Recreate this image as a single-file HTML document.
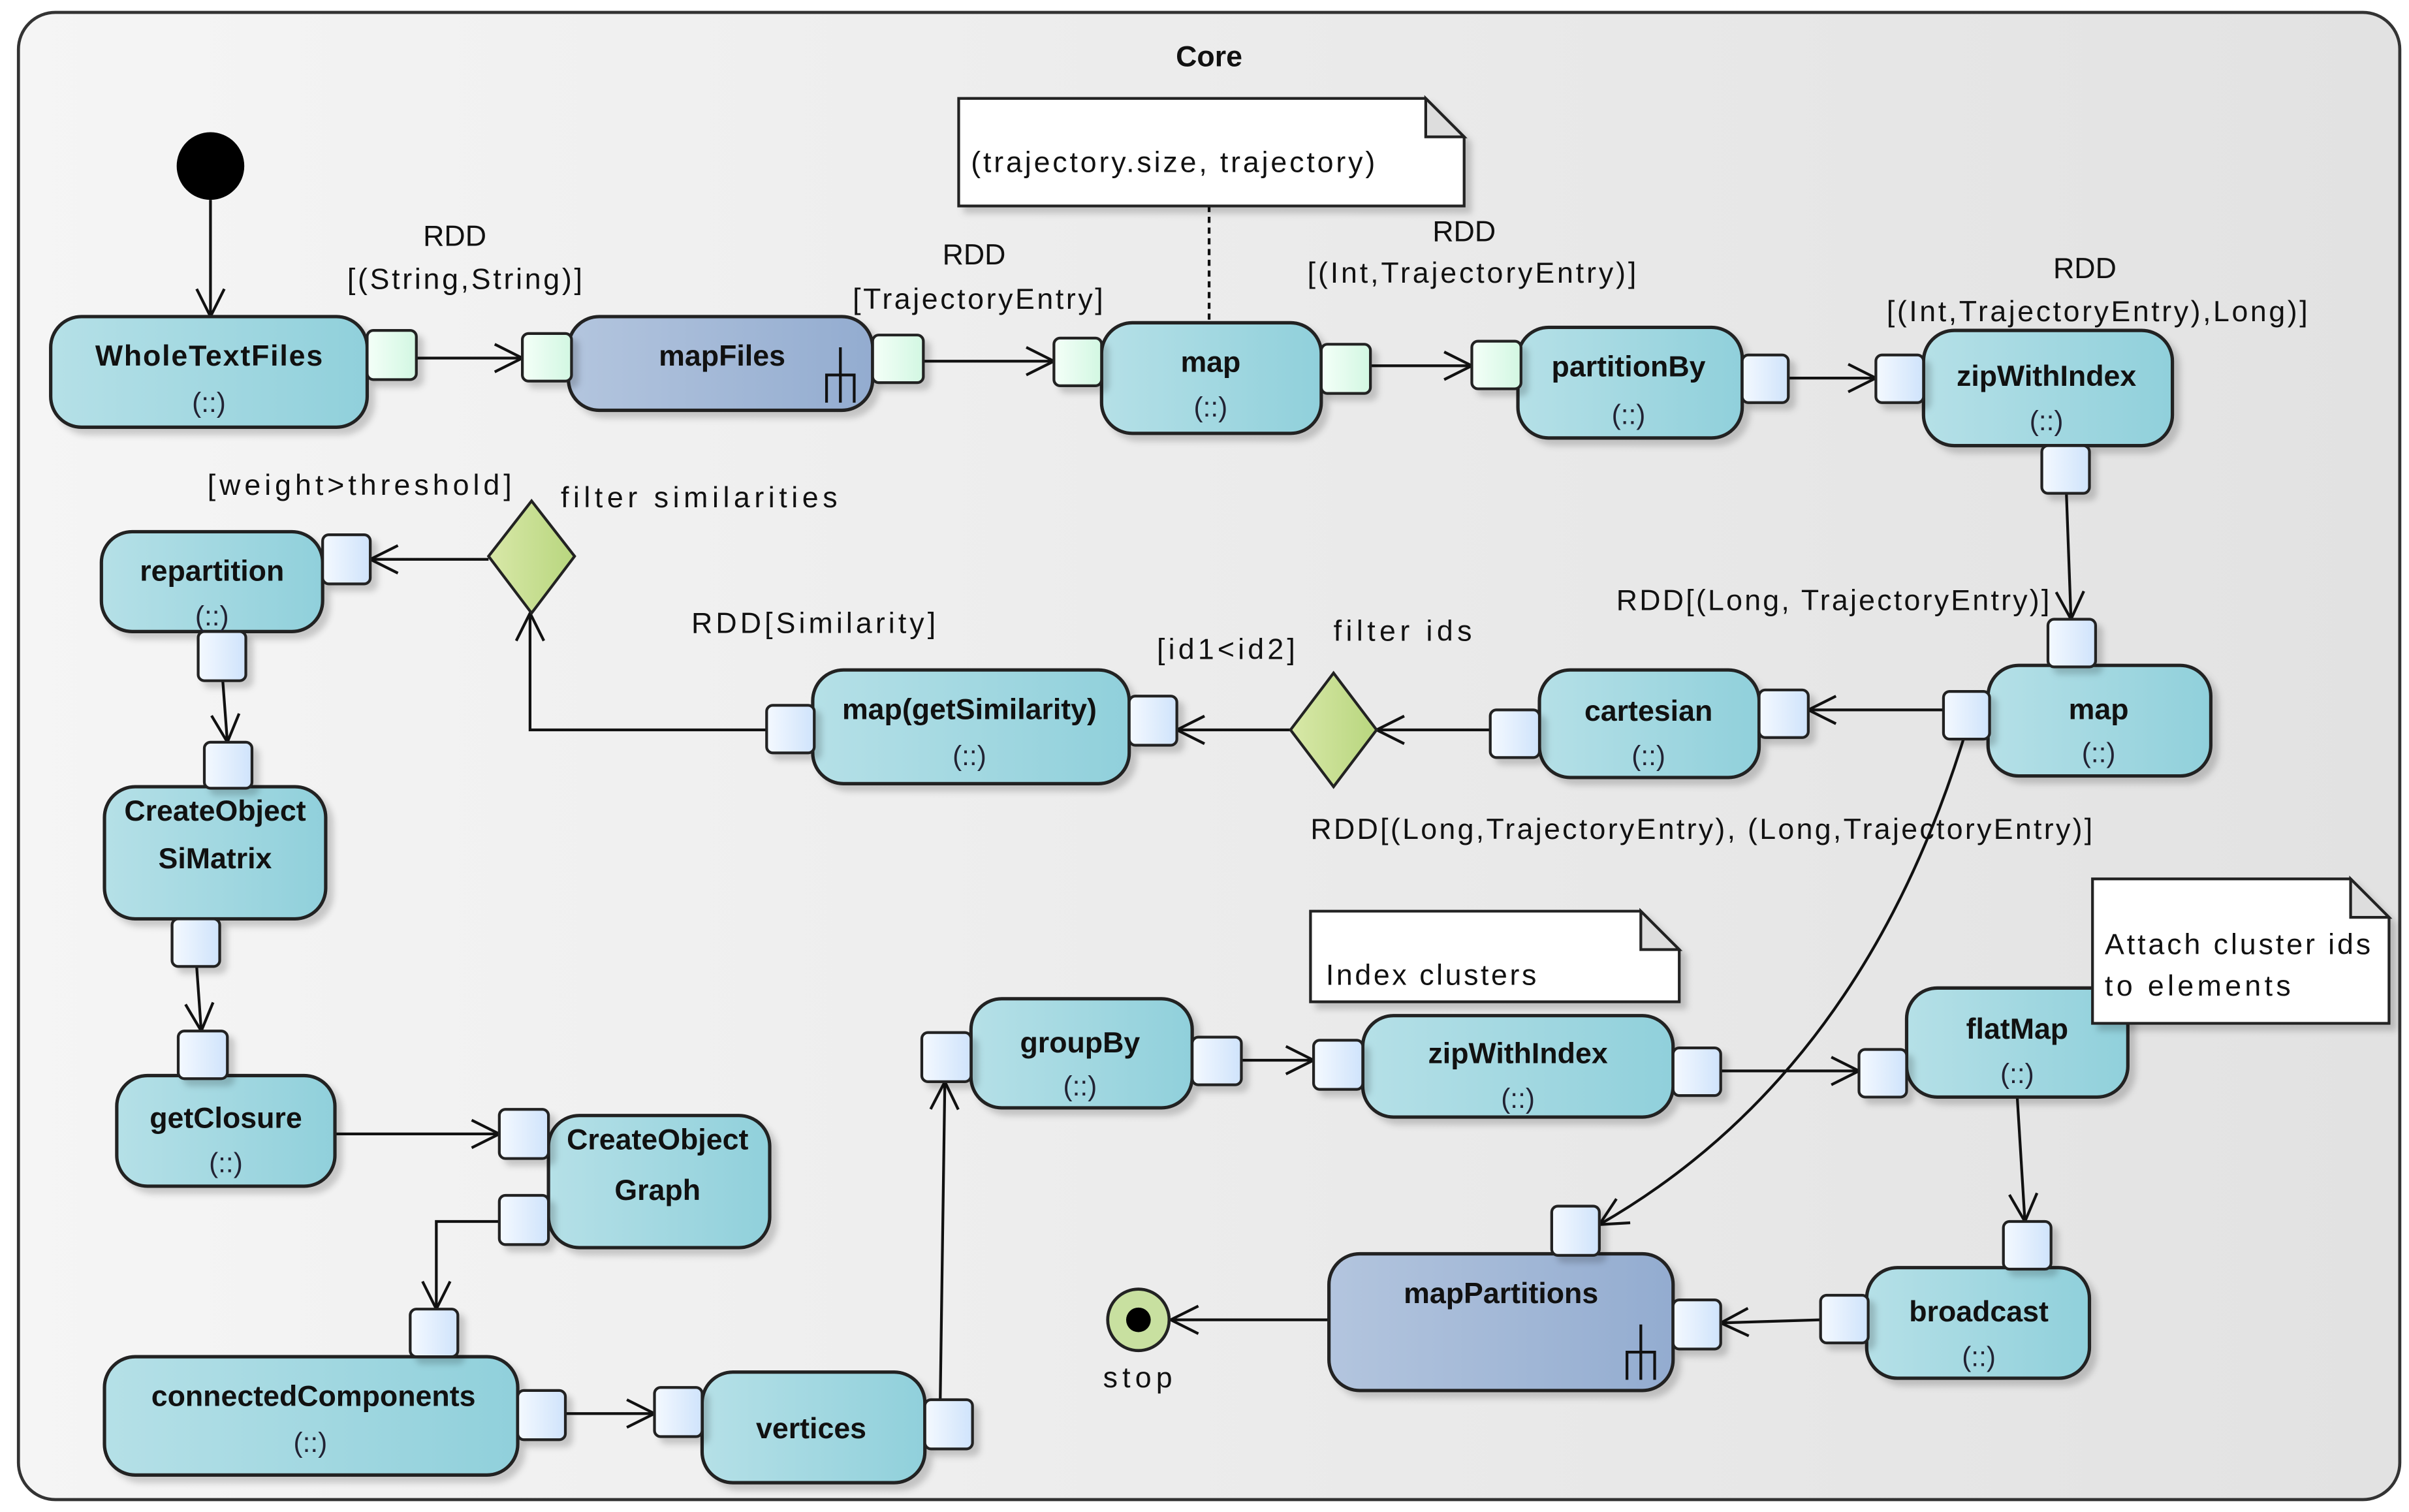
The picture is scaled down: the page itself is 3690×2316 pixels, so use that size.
<!DOCTYPE html>
<html><head><meta charset="utf-8"><style>
html,body{margin:0;padding:0;background:#fff;}
svg{display:block;}
text{font-family:"Liberation Sans","DejaVu Sans",sans-serif;font-size:19px;fill:#111;}
.b{font-weight:bold;text-anchor:middle;font-size:19px;}
.c{text-anchor:middle;fill:#223;font-size:18px;}
.m{text-anchor:middle;}
.n{stroke:#222;stroke-width:2.2;}
.p{stroke:#222;stroke-width:1.8;}
.l{stroke:#111;stroke-width:1.8;fill:none;}
</style></head><body>
<svg width="3690" height="2316" viewBox="0 0 1568 984" xmlns="http://www.w3.org/2000/svg">
<defs>
<linearGradient id="bg" x1="0" x2="1" y1="0" y2="0"><stop offset="0" stop-color="#f5f5f5"/><stop offset="1" stop-color="#e2e2e2"/></linearGradient>
<linearGradient id="act" x1="0" x2="1"><stop offset="0" stop-color="#b5e0e7"/><stop offset="1" stop-color="#90d0db"/></linearGradient>
<linearGradient id="blu" x1="0" x2="1"><stop offset="0" stop-color="#b3c5de"/><stop offset="1" stop-color="#93acd0"/></linearGradient>
<linearGradient id="pg" x1="0" x2="1"><stop offset="0" stop-color="#f4fff8"/><stop offset="1" stop-color="#d2f7e2"/></linearGradient>
<linearGradient id="pb" x1="0" x2="1"><stop offset="0" stop-color="#f4f9ff"/><stop offset="1" stop-color="#cfe3fb"/></linearGradient>
<linearGradient id="dg" x1="0" x2="1"><stop offset="0" stop-color="#d8e8a8"/><stop offset="1" stop-color="#b8d67e"/></linearGradient>
<marker id="a" markerUnits="userSpaceOnUse" markerWidth="24" markerHeight="24" refX="20" refY="10" orient="auto"><path d="M2,1 L20,10 L2,19" fill="none" stroke="#111" stroke-width="1.8"/></marker>
<filter id="sh" x="-10%" y="-10%" width="130%" height="140%"><feDropShadow dx="4" dy="4" stdDeviation="2" flood-color="#000" flood-opacity="0.18"/></filter>
</defs>
<rect x="12" y="8" width="1550" height="968" rx="24" fill="url(#bg)" stroke="#333" stroke-width="2"/>
<text x="787" y="43" class="b">Core</text>

<circle cx="137" cy="108" r="22" fill="#000"/>
<line x1="137" y1="130" x2="137" y2="206" class="l" marker-end="url(#a)"/>

<g class="l">
<line x1="271" y1="233" x2="340" y2="233" marker-end="url(#a)"/>
<line x1="601" y1="235" x2="686" y2="235" marker-end="url(#a)"/>
<line x1="892" y1="238" x2="958" y2="238" marker-end="url(#a)"/>
<line x1="1164" y1="246" x2="1221" y2="246" marker-end="url(#a)"/>
<line x1="1345" y1="321" x2="1348" y2="403" marker-end="url(#a)"/>
<line x1="1265" y1="462" x2="1177" y2="462" marker-end="url(#a)"/>
<line x1="970" y1="475" x2="896" y2="475" marker-end="url(#a)"/>
<line x1="840" y1="475" x2="766" y2="475" marker-end="url(#a)"/>
<polyline points="499,475 345,475 345,399" marker-end="url(#a)"/>
<line x1="318" y1="364" x2="241" y2="364" marker-end="url(#a)"/>
<line x1="145" y1="443" x2="148" y2="483" marker-end="url(#a)"/>
<line x1="128" y1="629" x2="131" y2="671" marker-end="url(#a)"/>
<line x1="218" y1="738" x2="325" y2="738" marker-end="url(#a)"/>
<polyline points="325,795 284,795 284,852" marker-end="url(#a)"/>
<line x1="368" y1="920" x2="426" y2="920" marker-end="url(#a)"/>
<polyline points="612,911 615,704" marker-end="url(#a)"/>
<line x1="808" y1="690" x2="855" y2="690" marker-end="url(#a)"/>
<line x1="1120" y1="697" x2="1210" y2="697" marker-end="url(#a)"/>
<line x1="1313" y1="714" x2="1318" y2="795" marker-end="url(#a)"/>
<line x1="1185" y1="859" x2="1120" y2="861" marker-end="url(#a)"/>
<path d="M1278,481 Q1210,700 1041,797" marker-end="url(#a)"/>
<line x1="865" y1="859" x2="762" y2="859" marker-end="url(#a)"/>
<line x1="787" y1="134" x2="787" y2="210" stroke-dasharray="4,3"/>
</g>

<g class="p" fill="#fff" filter="url(#sh)">
<path d="M624,64 H928 L953,89 V134 H624 Z"/>
<path d="M853,593 H1068 L1093,618 V652 H853 Z"/>
</g>
<g class="p" fill="#ddd">
<path d="M928,64 V89 H953 Z"/><path d="M1068,593 V618 H1093 Z"/>
</g>
<text x="632" y="112" textLength="263" lengthAdjust="spacing">(trajectory.size, trajectory)</text>
<text x="863" y="641" textLength="137" lengthAdjust="spacing">Index clusters</text>

<g class="n" filter="url(#sh)">
<rect x="33" y="206" width="206" height="72" rx="20" fill="url(#act)"/>
<rect x="370" y="206" width="198" height="61" rx="20" fill="url(#blu)"/>
<rect x="717" y="210" width="143" height="72" rx="20" fill="url(#act)"/>
<rect x="988" y="213" width="146" height="72" rx="20" fill="url(#act)"/>
<rect x="1252" y="215" width="162" height="75" rx="20" fill="url(#act)"/>
<rect x="1294" y="433" width="145" height="72" rx="20" fill="url(#act)"/>
<rect x="1002" y="436" width="143" height="70" rx="20" fill="url(#act)"/>
<rect x="529" y="436" width="206" height="74" rx="20" fill="url(#act)"/>
<rect x="66" y="346" width="144" height="65" rx="20" fill="url(#act)"/>
<rect x="68" y="512" width="144" height="86" rx="20" fill="url(#act)"/>
<rect x="76" y="700" width="142" height="72" rx="20" fill="url(#act)"/>
<rect x="357" y="726" width="144" height="86" rx="20" fill="url(#act)"/>
<rect x="68" y="883" width="269" height="77" rx="20" fill="url(#act)"/>
<rect x="457" y="893" width="145" height="72" rx="20" fill="url(#act)"/>
<rect x="632" y="650" width="144" height="71" rx="20" fill="url(#act)"/>
<rect x="887" y="661" width="202" height="66" rx="20" fill="url(#act)"/>
<rect x="1241" y="643" width="144" height="71" rx="20" fill="url(#act)"/>
<rect x="1215" y="825" width="145" height="72" rx="20" fill="url(#act)"/>
<rect x="865" y="816" width="224" height="89" rx="20" fill="url(#blu)"/>
</g>
<path d="M1362,572 H1530 L1555,597 V666 H1362 Z" fill="#fff" class="p" filter="url(#sh)"/>
<path d="M1530,572 V597 H1555 Z" fill="#ddd" class="p"/>
<text x="1370" y="621" textLength="173" lengthAdjust="spacing">Attach cluster ids</text>
<text x="1370" y="648" textLength="121" lengthAdjust="spacing">to elements</text>

<g class="l" stroke-width="1.6">
<path d="M547,226 V262 M538,262 V244 H556 V262"/>
<path d="M1068,862 V898 M1059,898 V880 H1077 V898"/>
</g>

<g class="p" fill="url(#dg)">
<path d="M346,326 L374,362 L346,399 L318,362 Z"/>
<path d="M868,438 L896,475 L868,512 L840,475 Z"/>
</g>

<g class="p" filter="url(#sh)">
<rect x="239" y="215" width="32" height="32" rx="4" fill="url(#pg)"/>
<rect x="340" y="217" width="32" height="31" rx="4" fill="url(#pg)"/>
<rect x="568" y="218" width="33" height="31" rx="4" fill="url(#pg)"/>
<rect x="686" y="220" width="31" height="31" rx="4" fill="url(#pg)"/>
<rect x="860" y="224" width="32" height="32" rx="4" fill="url(#pg)"/>
<rect x="958" y="222" width="32" height="31" rx="4" fill="url(#pg)"/>
<rect x="1134" y="231" width="30" height="31" rx="4" fill="url(#pb)"/>
<rect x="1221" y="231" width="31" height="31" rx="4" fill="url(#pb)"/>
<rect x="1329" y="290" width="31" height="31" rx="4" fill="url(#pb)"/>
<rect x="1333" y="403" width="31" height="31" rx="4" fill="url(#pb)"/>
<rect x="1265" y="450" width="30" height="31" rx="4" fill="url(#pb)"/>
<rect x="1145" y="449" width="32" height="31" rx="4" fill="url(#pb)"/>
<rect x="970" y="462" width="32" height="31" rx="4" fill="url(#pb)"/>
<rect x="735" y="453" width="31" height="32" rx="4" fill="url(#pb)"/>
<rect x="499" y="459" width="31" height="31" rx="4" fill="url(#pb)"/>
<rect x="210" y="348" width="31" height="32" rx="4" fill="url(#pb)"/>
<rect x="129" y="411" width="31" height="32" rx="4" fill="url(#pb)"/>
<rect x="133" y="483" width="31" height="30" rx="4" fill="url(#pb)"/>
<rect x="112" y="598" width="31" height="31" rx="4" fill="url(#pb)"/>
<rect x="116" y="671" width="32" height="31" rx="4" fill="url(#pb)"/>
<rect x="325" y="722" width="32" height="32" rx="4" fill="url(#pb)"/>
<rect x="325" y="778" width="32" height="32" rx="4" fill="url(#pb)"/>
<rect x="267" y="852" width="31" height="31" rx="4" fill="url(#pb)"/>
<rect x="337" y="905" width="31" height="32" rx="4" fill="url(#pb)"/>
<rect x="426" y="903" width="31" height="32" rx="4" fill="url(#pb)"/>
<rect x="602" y="911" width="31" height="32" rx="4" fill="url(#pb)"/>
<rect x="600" y="672" width="32" height="32" rx="4" fill="url(#pb)"/>
<rect x="776" y="675" width="32" height="31" rx="4" fill="url(#pb)"/>
<rect x="855" y="677" width="32" height="32" rx="4" fill="url(#pb)"/>
<rect x="1089" y="682" width="31" height="31" rx="4" fill="url(#pb)"/>
<rect x="1210" y="683" width="31" height="31" rx="4" fill="url(#pb)"/>
<rect x="1304" y="795" width="31" height="31" rx="4" fill="url(#pb)"/>
<rect x="1185" y="843" width="31" height="31" rx="4" fill="url(#pb)"/>
<rect x="1089" y="846" width="31" height="32" rx="4" fill="url(#pb)"/>
<rect x="1010" y="785" width="31" height="32" rx="4" fill="url(#pb)"/>
</g>

<circle cx="741" cy="859" r="20" fill="#c8e0a0" stroke="#222" stroke-width="2"/>
<circle cx="741" cy="859" r="8" fill="#000"/>
<text x="718" y="903" textLength="45" lengthAdjust="spacing">stop</text>

<text x="136" y="238" class="b" textLength="148" lengthAdjust="spacing">WholeTextFiles</text><text x="136" y="268" class="c">(::)</text>
<text x="470" y="238" class="b">mapFiles</text>
<text x="788" y="242" class="b">map</text><text x="788" y="271" class="c">(::)</text>
<text x="1060" y="245" class="b">partitionBy</text><text x="1060" y="276" class="c">(::)</text>
<text x="1332" y="251" class="b">zipWithIndex</text><text x="1332" y="280" class="c">(::)</text>
<text x="1366" y="468" class="b">map</text><text x="1366" y="496" class="c">(::)</text>
<text x="1073" y="469" class="b">cartesian</text><text x="1073" y="498" class="c">(::)</text>
<text x="631" y="468" class="b">map(getSimilarity)</text><text x="631" y="498" class="c">(::)</text>
<text x="138" y="378" class="b">repartition</text><text x="138" y="407" class="c">(::)</text>
<text x="140" y="534" class="b">CreateObject</text><text x="140" y="565" class="b">SiMatrix</text>
<text x="147" y="734" class="b">getClosure</text><text x="147" y="763" class="c">(::)</text>
<text x="428" y="748" class="b">CreateObject</text><text x="428" y="781" class="b">Graph</text>
<text x="204" y="915" class="b">connectedComponents</text><text x="202" y="945" class="c">(::)</text>
<text x="528" y="936" class="b">vertices</text>
<text x="703" y="685" class="b">groupBy</text><text x="703" y="713" class="c">(::)</text>
<text x="988" y="692" class="b">zipWithIndex</text><text x="988" y="721" class="c">(::)</text>
<text x="1313" y="676" class="b">flatMap</text><text x="1313" y="705" class="c">(::)</text>
<text x="1288" y="860" class="b">broadcast</text><text x="1288" y="889" class="c">(::)</text>
<text x="977" y="848" class="b">mapPartitions</text>

<text x="296" y="160" class="m">RDD</text><text x="226" y="188" textLength="153" lengthAdjust="spacing">[(String,String)]</text>
<text x="634" y="172" class="m">RDD</text><text x="555" y="201" textLength="163" lengthAdjust="spacing">[TrajectoryEntry]</text>
<text x="953" y="157" class="m">RDD</text><text x="851" y="184" textLength="214" lengthAdjust="spacing">[(Int,TrajectoryEntry)]</text>
<text x="1357" y="181" class="m">RDD</text><text x="1228" y="209" textLength="274" lengthAdjust="spacing">[(Int,TrajectoryEntry),Long)]</text>
<text x="1052" y="397" textLength="282" lengthAdjust="spacing">RDD[(Long, TrajectoryEntry)]</text>
<text x="868" y="417" textLength="90" lengthAdjust="spacing">filter ids</text>
<text x="753" y="429" textLength="90" lengthAdjust="spacing">[id1&lt;id2]</text>
<text x="853" y="546" textLength="509" lengthAdjust="spacing">RDD[(Long,TrajectoryEntry), (Long,TrajectoryEntry)]</text>
<text x="450" y="412" textLength="159" lengthAdjust="spacing">RDD[Similarity]</text>
<text x="365" y="330" textLength="180" lengthAdjust="spacing">filter similarities</text>
<text x="135" y="322" textLength="198" lengthAdjust="spacing">[weight&gt;threshold]</text>
</svg>
</body></html>
